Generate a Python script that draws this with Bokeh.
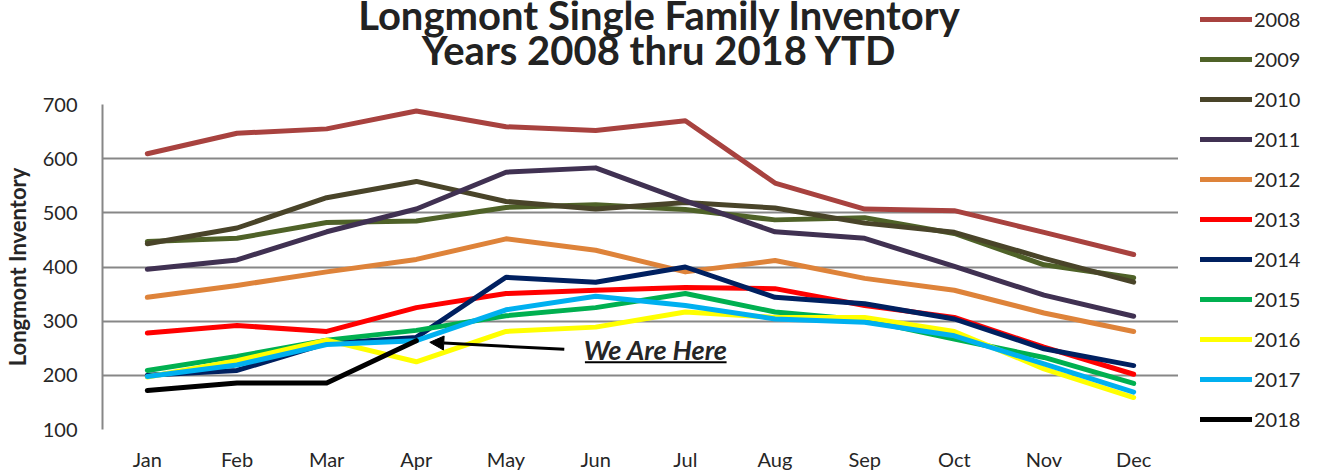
from bokeh.plotting import figure
from bokeh.layouts import row, column
from bokeh.models import (FixedTicker, Legend, LegendItem, Arrow, NormalHead, Label, Range1d)
from bokeh.embed import file_html
from bokeh.resources import INLINE

months = ["Jan", "Feb", "Mar", "Apr", "May", "Jun", "Jul", "Aug", "Sep", "Oct", "Nov", "Dec"]
years = ["2008", "2009", "2010", "2011", "2012", "2013", "2014", "2015", "2016", "2017", "2018"]
y_ticks = [100, 200, 300, 400, 500, 600, 700]

y2008 = [609, 647, 655, 688, 659, 652, 670, 555, 507, 504, 464, 423]
y2009 = [447, 453, 482, 485, 510, 515, 506, 487, 491, 462, 404, 380]
y2010 = [443, 472, 528, 558, 521, 507, 519, 509, 481, 464, 416, 372]
y2011 = [396, 413, 465, 507, 575, 583, 522, 465, 453, 401, 348, 309]
y2012 = [344, 366, 391, 414, 452, 431, 391, 412, 379, 357, 315, 281]
y2013 = [278, 292, 281, 325, 351, 357, 362, 360, 329, 307, 252, 202]
y2014 = [200, 209, 259, 270, 381, 372, 400, 344, 332, 304, 249, 218]
y2015 = [209, 235, 265, 283, 310, 325, 351, 317, 302, 267, 233, 185]
y2016 = [197, 227, 265, 225, 281, 289, 317, 307, 307, 281, 212, 159]
y2017 = [198, 219, 257, 264, 321, 346, 329, 304, 298, 273, 221, 169]
y2018 = [172, 186, 186, 264]

series = [y2008, y2009, y2010, y2011, y2012, y2013, y2014, y2015, y2016, y2017, y2018]
colors = ["#A8423F", "#4F6228", "#494429", "#403152", "#DE833A", "#FF0000",
          "#002060", "#00B050", "#FFFF00", "#00B0F0", "#000000"]

TXT = "#262626"


def blank(fig):
    fig.outline_line_color = None
    fig.xgrid.visible = False
    fig.ygrid.visible = False
    return fig


# ---- title strip (its frame is aligned with the chart frame: x 100..1178) ----
tfig = blank(figure(width=1178, height=92, output_backend="svg", toolbar_location=None,
                    x_range=Range1d(100, 1178), y_range=Range1d(92, 0),
                    min_border_left=0, min_border_right=0, min_border_top=0, min_border_bottom=0,
                    x_axis_location=None, y_axis_location=None))
tfig.add_layout(Label(x=658, y=14, text="Longmont Single Family Inventory", text_align="center",
                      text_baseline="alphabetic", text_font="Lato", text_font_style="bold",
                      text_font_size="40px", text_color="#222222"))
tfig.add_layout(Label(x=658, y=49, text="Years 2008 thru 2018 YTD", text_align="center",
                      text_baseline="alphabetic", text_font="Lato", text_font_style="bold",
                      text_font_size="40px", text_color="#222222"))

# ---- main chart ----
p = figure(width=1178, height=383, output_backend="svg", toolbar_location=None,
           x_range=Range1d(-0.5, 11.5), y_range=Range1d(100, 700),
           min_border_left=100, min_border_right=0, min_border_top=12, min_border_bottom=46)
p.outline_line_color = None

renderers = []
for vals, c in zip(series, colors):
    r = p.line(list(range(len(vals))), vals, line_color=c, line_width=5,
               line_join="round", line_cap="round")
    renderers.append(r)

p.xaxis.ticker = FixedTicker(ticks=list(range(12)))
p.xaxis.major_label_overrides = {i: m for i, m in enumerate(months)}
p.yaxis.ticker = FixedTicker(ticks=y_ticks)
for ax in (p.xaxis[0], p.yaxis[0]):
    ax.major_tick_line_color = None
    ax.major_tick_out = 0
    ax.major_tick_in = 0
    ax.minor_tick_line_color = None
    ax.minor_tick_out = 0
    ax.minor_tick_in = 0
    ax.axis_line_color = "#878787"
    ax.axis_line_width = 2
    ax.major_label_text_font = "Lato"
    ax.major_label_text_font_size = "20px"
    ax.major_label_text_color = TXT
p.xaxis.axis_line_color = None
p.xaxis.major_label_standoff = 17
p.yaxis.major_label_standoff = 25
p.yaxis.axis_label = "Longmont Inventory"
p.yaxis.axis_label_text_font = "Lato"
p.yaxis.axis_label_text_font_size = "22px"
p.yaxis.axis_label_text_font_style = "bold"
p.yaxis.axis_label_text_color = TXT
p.yaxis.axis_label_standoff = 9
p.xgrid.visible = False
p.ygrid.ticker = FixedTicker(ticks=y_ticks)
p.ygrid.grid_line_color = "#878787"
p.ygrid.grid_line_width = 2

p.add_layout(Arrow(end=NormalHead(size=14, fill_color="black", line_color="black"),
                   x_start=4.65, y_start=248, x_end=3.15, y_end=261,
                   line_color="black", line_width=3))
p.add_layout(Label(x=5.67, y=247, text="We Are Here", text_align="center",
                   text_baseline="alphabetic", text_font="Lato", text_font_style="bold italic",
                   text_font_size="27px", text_color=TXT))
p.segment(x0=[4.88], y0=[224], x1=[6.46], y1=[224], line_color="black", line_width=2)

# ---- legend strip ----
lfig = blank(figure(width=141, height=475, output_backend="svg", toolbar_location=None,
                    x_range=Range1d(1000, 1001), y_range=Range1d(0, 1),
                    min_border_left=0, min_border_right=0, min_border_top=0, min_border_bottom=0,
                    x_axis_location=None, y_axis_location=None))
lrend = []
for vals, c in zip(series, colors):
    lrend.append(lfig.line(list(range(len(vals))), vals, line_color=c, line_width=5,
                           line_join="round", line_cap="round"))
items = [LegendItem(label=y, renderers=[r]) for y, r in zip(years, lrend)]
legend = Legend(items=items, location=(22, 44), padding=0, margin=0,
                spacing=16, label_height=24, glyph_height=24, glyph_width=52,
                label_standoff=2, label_text_font="Lato", label_text_font_size="20px",
                label_text_color=TXT, border_line_color=None, background_fill_alpha=0)
lfig.add_layout(legend, "center")

layout = row(column(tfig, p, spacing=0), lfig, spacing=0)
open("out.html", "w").write(file_html(layout, INLINE))
